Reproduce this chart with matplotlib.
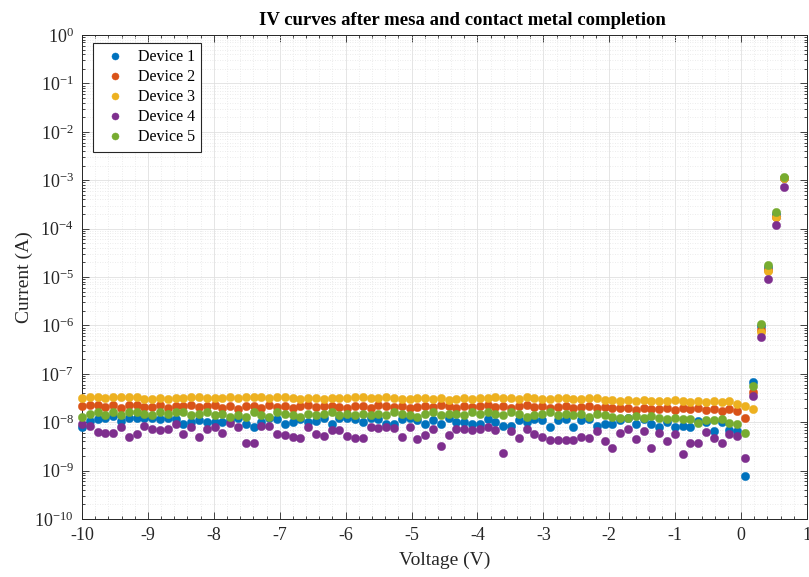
import matplotlib
matplotlib.use("Agg")
import matplotlib.pyplot as plt
import numpy as np
from matplotlib.ticker import MultipleLocator, LogLocator, NullFormatter, FixedLocator

# ---------------- data ----------------
# voltage sweep: -10 V to 0.65 V, 91 points
V_START, V_STOP, N_POINTS = -10.0, 0.65, 91
voltage = np.linspace(V_START, V_STOP, N_POINTS)

# Device currents: reverse part in units of 1e-8 A, forward part in A
dev1_rev = [0.78, 1.05, 1.15, 1.2, 1.35, 1.06, 1.25, 1.25, 1.2, 1.2, 1.15, 1.2, 1.15, 0.9, 1.0, 1.1, 1.03, 1.03,
            1.03, 1.1, 1.25, 0.91, 0.78, 1.03, 1.25, 1.15, 0.9, 1.03, 1.15, 1.0, 1.06, 1.2, 0.91, 1.25, 1.25,
            1.15, 1.03, 1.2, 1.15, 0.94, 0.94, 1.15, 1.2, 1.1, 0.94, 1.1, 0.94, 1.2, 1.03, 1.03, 0.94, 0.94,
            1.15, 1.03, 0.84, 0.84, 1.1, 1.0, 1.15, 1.1, 0.78, 1.1, 1.15, 0.8, 1.1, 1.15, 0.84, 0.94, 0.91,
            1.1, 1.2, 0.91, 1.15, 0.91, 0.78, 1.0, 0.78, 0.84, 0.78, 1.05, 1.0, 0.66, 1.0, 0.7, 0.66,
            0.077]
dev1_fwd = [6.7e-8, 9.5e-7, 1.6e-5, 2.0e-4, 1.1e-3]

dev2_rev = [2.2, 2.3, 2.3, 2.1, 2.3, 2.0, 2.3, 2.3, 2.1, 2.1, 2.3, 2.0, 2.2, 2.2, 2.3, 2.1, 2.2, 2.3,
            2.0, 2.2, 1.9, 2.2, 2.2, 2.0, 2.3, 2.1, 2.2, 2.0, 2.2, 2.3, 2.1, 2.2, 2.2, 2.1, 2.0,
            2.2, 2.2, 2.0, 2.3, 2.2, 2.1, 2.2, 2.0, 2.1, 2.2, 2.1, 2.3, 2.2, 2.0, 2.2, 2.1, 2.2,
            2.3, 2.1, 2.2, 2.0, 2.2, 2.3, 2.1, 2.2, 2.0, 2.1, 2.2, 2.0, 2.1, 2.2, 2.0, 2.1, 2.0,
            2.0, 2.0, 1.8, 2.0, 1.9, 1.9, 2.0, 1.8, 2.0, 1.9, 2.0, 1.8, 1.9, 1.7, 1.9, 1.7,
            1.2]
dev2_fwd = [4.2e-8, 8.0e-7, 1.4e-5, 1.7e-4, 1.1e-3]

dev3_rev = [3.1, 3.3, 3.3, 3.1, 3.3, 3.3, 3.3, 3.3, 3.0, 3.0, 3.1, 3.0, 3.1, 3.1, 3.3, 3.3, 3.1, 3.1,
            3.2, 3.3, 3.1, 3.3, 3.3, 3.3, 3.2, 3.3, 3.3, 3.1, 3.0, 3.1, 3.2, 3.0, 3.1, 3.2, 3.1,
            3.3, 3.3, 3.1, 3.1, 3.3, 3.1, 3.0, 3.0, 3.1, 3.1, 3.0, 3.1, 2.9, 3.0, 3.1, 3.0, 3.2,
            3.2, 3.3, 3.1, 3.1, 3.0, 3.3, 3.1, 3.0, 3.0, 3.1, 3.1, 3.0, 3.0, 3.1, 3.1, 2.9, 2.9,
            2.8, 2.9, 2.7, 2.9, 2.8, 2.8, 2.8, 2.9, 2.8, 2.6, 2.8, 2.6, 2.8, 2.6, 2.7, 2.4,
            2.2]
dev3_fwd = [1.9e-8, 7.3e-7, 1.35e-5, 1.75e-4, 1.1e-3]

dev4_rev = [0.94, 0.84, 0.64, 0.61, 0.59, 0.80, 0.50, 0.56, 0.84, 0.72, 0.68, 0.72, 0.94, 0.56, 0.78, 0.50, 0.74, 0.78,
            0.61, 0.95, 0.78, 0.38, 0.38, 0.84, 0.84, 0.56, 0.54, 0.50, 0.48, 0.78, 0.58, 0.52, 0.68, 0.68, 0.52,
            0.48, 0.48, 0.78, 0.75, 0.80, 0.75, 0.50, 0.78, 0.46, 0.54, 0.74, 0.32, 0.54, 0.72, 0.74, 0.68, 0.72,
            0.80, 0.68, 0.235, 0.66, 0.47, 0.74, 0.56, 0.50, 0.43, 0.43, 0.43, 0.42, 0.50, 0.48, 0.66, 0.41, 0.30,
            0.61, 0.74, 0.44, 0.66, 0.29, 0.61, 0.41, 0.56, 0.225, 0.38, 0.37, 0.63, 0.48, 0.37, 0.56, 0.52,
            0.186]
dev4_fwd = [3.5e-8, 5.7e-7, 9.2e-6, 1.2e-4, 7.4e-4]

dev5_rev = [1.3, 1.5, 1.6, 1.4, 1.6, 1.4, 1.6, 1.6, 1.5, 1.4, 1.6, 1.5, 1.6, 1.6, 1.4, 1.5, 1.6, 1.4,
            1.5, 1.3, 1.4, 1.3, 1.6, 1.4, 1.3, 1.6, 1.5, 1.4, 1.3, 1.5, 1.4, 1.5, 1.6, 1.4, 1.5,
            1.4, 1.5, 1.4, 1.5, 1.4, 1.6, 1.5, 1.4, 1.3, 1.5, 1.6, 1.4, 1.5, 1.5, 1.4, 1.6, 1.5,
            1.6, 1.5, 1.4, 1.6, 1.5, 1.3, 1.4, 1.5, 1.6, 1.4, 1.5, 1.4, 1.5, 1.3, 1.5, 1.4, 1.3,
            1.2, 1.2, 1.35, 1.2, 1.35, 1.25, 1.15, 1.2, 1.15, 1.15, 0.95, 1.1, 1.1, 1.15, 0.95, 0.9,
            0.59]
dev5_fwd = [5.6e-8, 1.06e-6, 1.75e-5, 2.2e-4, 1.14e-3]

device_names = ["Device 1", "Device 2", "Device 3", "Device 4", "Device 5"]
rev_scale = [1e-8, 1e-8, 1e-8, 1e-8, 1e-8]
rev_data = [dev1_rev, dev2_rev, dev3_rev, dev4_rev, dev5_rev]
fwd_data = [dev1_fwd, dev2_fwd, dev3_fwd, dev4_fwd, dev5_fwd]
colors = ["#0072BD", "#D95319", "#EDB120", "#7E2F8E", "#77AC30"]

x_ticks = list(range(-10, 2))
x_tick_labels = [str(t) for t in x_ticks]
y_exponents = list(range(-10, 1))

# ---------------- style ----------------
plt.rcParams["font.family"] = ["Liberation Serif", "DejaVu Serif"]
plt.rcParams["mathtext.fontset"] = "custom"
plt.rcParams["mathtext.rm"] = "Liberation Serif"
plt.rcParams["mathtext.it"] = "Liberation Serif:italic"
plt.rcParams["mathtext.bf"] = "Liberation Serif:bold"
plt.rcParams["axes.unicode_minus"] = False

dark = "#262626"

fig = plt.figure(figsize=(8.09, 5.77), dpi=100)
ax = fig.add_axes([82 / 809, 1 - 519 / 577, 725 / 809, 484 / 577])

for name, sc, rv, fw, c in zip(device_names, rev_scale, rev_data, fwd_data, colors):
    current = np.concatenate([np.array(rv) * sc, np.array(fw)])
    ax.plot(voltage, current, linestyle="none", marker="o", markersize=6.0,
            markerfacecolor=c, markeredgecolor=c, markeredgewidth=0.3, color=c,
            label=name, clip_on=False, zorder=3)

ax.set_yscale("log")
ax.set_xlim(-10, 1)
ax.set_ylim(1e-10, 1)

ax.xaxis.set_major_locator(FixedLocator(x_ticks))
ax.set_xticklabels(x_tick_labels)
ax.xaxis.set_minor_locator(MultipleLocator(0.2))
ax.yaxis.set_major_locator(FixedLocator([10.0 ** e for e in y_exponents]))
ax.set_yticklabels([r"$10^{%d}$" % e for e in y_exponents])
ax.yaxis.set_minor_locator(LogLocator(base=10, subs=np.arange(2, 10), numticks=20))
ax.yaxis.set_minor_formatter(NullFormatter())

ax.grid(which="major", color="#e0e0e0", linewidth=0.6, linestyle="-")
ax.grid(which="minor", color="#e6e6e6", linewidth=0.6, linestyle=(0, (1, 2)))
ax.set_axisbelow(True)

ax.tick_params(which="both", direction="in", top=True, right=True, colors=dark,
               labelsize=13, width=0.6)
ax.tick_params(which="major", length=5, pad=6)
ax.tick_params(which="minor", length=2.5)
for s in ax.spines.values():
    s.set_color(dark)
    s.set_linewidth(0.7)

ax.set_xlabel("Voltage (V)", fontsize=14, color=dark, labelpad=5)
ax.set_ylabel("Current (A)", fontsize=14, color=dark, labelpad=1)
ax.set_title("IV curves after mesa and contact metal completion", fontsize=13.5,
             fontweight="bold", color="black", x=(462 - 82) / 725, pad=7)

leg = ax.legend(loc="upper left", bbox_to_anchor=(11 / 725, (519 - 43) / 484),
                borderaxespad=0, fontsize=11.5, fancybox=False, frameon=True,
                handlelength=2.0, handletextpad=0.4, labelspacing=0.25,
                borderpad=0.4, markerscale=0.85)
leg.get_frame().set_edgecolor(dark)
leg.get_frame().set_linewidth(0.8)
leg.get_frame().set_alpha(1)

fig.savefig("out.png", dpi=100)
